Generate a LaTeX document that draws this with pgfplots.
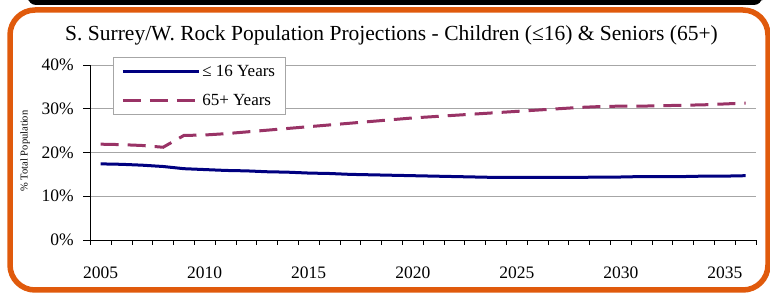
\documentclass[border=0pt]{standalone}
\usepackage{fontspec}
\setmainfont{Liberation Serif}
\usepackage{pgfplots}
\pgfplotsset{compat=1.18}
\definecolor{frameorange}{HTML}{E05A0C}
\definecolor{navyline}{HTML}{000080}
\definecolor{plum}{HTML}{993366}
\pgfplotstableread{
year child senior
2005 17.4 21.9
2006 17.3 21.8
2007 17.1 21.6
2008 16.8 21.2
2009 16.3 23.9
2010 16.1 24.0
2011 15.9 24.3
2012 15.8 24.7
2013 15.6 25.1
2014 15.5 25.5
2015 15.3 25.9
2016 15.2 26.3
2017 15.0 26.7
2018 14.9 27.1
2019 14.8 27.5
2020 14.7 27.9
2021 14.6 28.2
2022 14.5 28.5
2023 14.4 28.8
2024 14.3 29.1
2025 14.3 29.4
2026 14.3 29.7
2027 14.3 30.0
2028 14.3 30.3
2029 14.4 30.5
2030 14.4 30.6
2031 14.5 30.6
2032 14.5 30.7
2033 14.5 30.8
2034 14.6 30.9
2035 14.6 31.1
2036 14.7 31.3
}\datatable
\begin{document}
\begin{tikzpicture}
\useasboundingbox (0,0) rectangle (770bp,293bp);
\fill[black, rounded corners=8bp] (28bp,300bp) rectangle (762bp,288bp);
\draw[frameorange, line width=5.5bp, rounded corners=25bp] (10bp,3bp) rectangle (768bp,283bp);
\node[anchor=base, font=\rmfamily\fontsize{21.5bp}{25bp}\selectfont, inner sep=0pt] at (391.5bp,252bp) {S. Surrey/W. Rock Population Projections - Children (≤16) \& Seniors (65+)};
\node[rotate=90, font=\rmfamily\fontsize{10.5bp}{12bp}\selectfont, inner sep=0pt] at (25bp,142bp) {\% Total Population};
\begin{axis}[
 at={(90.3bp,53bp)}, anchor=south west,
 scale only axis, width=665.7bp, height=175bp,
 xmin=2004.5, xmax=2036.5, ymin=0, ymax=40,
 axis lines=left, axis line style={-, black, line width=0.8bp},
 tick align=outside,
 xtick={2005,2010,...,2035},
 minor xtick={2004.5,2005.5,...,2036.5},
 major x tick style={draw=none},
 minor x tick style={black, line width=0.8bp},
 minor tick length=4.5bp,
 ytick={0,10,20,30,40},
 major y tick style={black, line width=0.8bp},
 major tick length=7bp,
 ymajorgrids, major grid style={gray!70, line width=0.8bp},
 /pgf/number format/assume math mode=true,
 xticklabel={\pgfmathprintnumber[1000 sep={}]{\tick}},
 yticklabel={\pgfmathprintnumber{\tick}\%},
 xticklabel style={font=\rmfamily\fontsize{17.5bp}{20bp}\selectfont, yshift=-16bp},
 yticklabel style={font=\rmfamily\fontsize{17.5bp}{20bp}\selectfont, xshift=-6bp},
 legend style={at={(0.034,1.046)}, anchor=north west, draw=gray!70, fill=white,
   font=\rmfamily\fontsize{17bp}{20bp}\selectfont, inner xsep=8bp, inner ysep=6bp,
   row sep=12bp, line width=0.8bp},
 legend cell align=left,
 legend image code/.code={\draw[#1] (0bp,0bp) -- (76bp,0bp);},
]
\addplot[navyline, line width=3bp] table[x=year, y=child] {\datatable};
\addlegendentry{≤ 16 Years}
\addplot[plum, line width=3bp, dash pattern=on 18bp off 9bp] table[x=year, y=senior] {\datatable};
\addlegendentry{65+ Years}
\end{axis}
\end{tikzpicture}
\end{document}
